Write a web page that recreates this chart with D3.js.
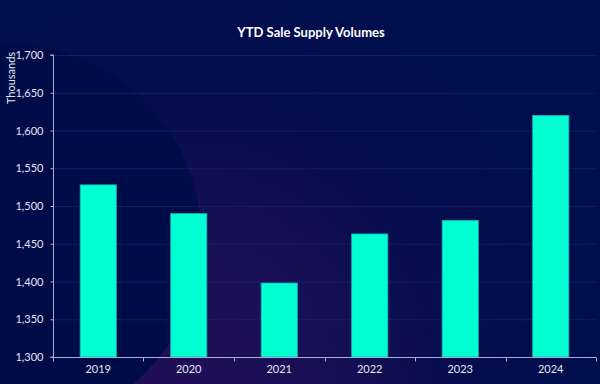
<!DOCTYPE html>
<html>
<head>
<meta charset="utf-8">
<script src="https://cdn.jsdelivr.net/npm/d3@7"></script>
<style>
  html, body { margin: 0; padding: 0; background: #010d4a; }
  svg { display: block; }
</style>
</head>
<body>
<svg id="chart"></svg>
<script>
// Chart data
const years = ["2019", "2020", "2021", "2022", "2023", "2024"];
const volumes = [1528, 1490, 1398, 1463, 1481, 1620];
const yTicks = [1300, 1350, 1400, 1450, 1500, 1550, 1600, 1650, 1700];

const W = 600, H = 384;
const margin = { top: 55, right: 4, bottom: 27, left: 53 };

const svg = d3.select("#chart").attr("width", W).attr("height", H);

// Background: purple glow with a big navy circle on the left
const defs = svg.append("defs");
const glow = defs.append("radialGradient")
    .attr("id", "glow")
    .attr("gradientUnits", "userSpaceOnUse")
    .attr("cx", 190).attr("cy", 384).attr("r", 430);
glow.append("stop").attr("offset", "0%").attr("stop-color", "#200f56");
glow.append("stop").attr("offset", "30%").attr("stop-color", "#190f54");
glow.append("stop").attr("offset", "65%").attr("stop-color", "#050d4e");
glow.append("stop").attr("offset", "100%").attr("stop-color", "#000e4d");

svg.append("rect").attr("width", W).attr("height", H).attr("fill", "url(#glow)");
svg.append("circle").attr("cx", 8).attr("cy", 237).attr("r", 193).attr("fill", "#000c48");

// Scales
const x = d3.scaleBand()
    .domain(years)
    .range([margin.left, W - margin.right])
    .paddingInner(0.6)
    .paddingOuter(0.3);

const y = d3.scaleLinear()
    .domain([1300, 1700])
    .range([H - margin.bottom, margin.top]);

// Gridlines
svg.append("g")
    .selectAll("line")
    .data(yTicks)
    .join("line")
    .attr("x1", margin.left)
    .attr("x2", W - margin.right)
    .attr("y1", d => y(d) + 0.5)
    .attr("y2", d => y(d) + 0.5)
    .attr("stroke", "#18288a")
    .attr("stroke-dasharray", "1,1");

// Bars
svg.append("g")
    .selectAll("rect")
    .data(volumes)
    .join("rect")
    .attr("x", (d, i) => x(years[i]))
    .attr("y", d => y(d))
    .attr("width", x.bandwidth())
    .attr("height", d => y(1300) - y(d))
    .attr("fill", "#00ffd2")
    .attr("stroke", "#1aa9b0")
    .attr("stroke-width", 0.8);

// Y axis
const yAxis = svg.append("g")
    .attr("transform", `translate(${margin.left + 0.5},0)`)
    .call(d3.axisLeft(y).tickValues(yTicks).tickSize(3).tickFormat(d3.format(",")));
yAxis.select(".domain").attr("stroke", "#a9aed0").attr("d", `M-3,${y(1700)}H0V${y(1300)}H-3`);
yAxis.selectAll(".tick line").attr("stroke", "#a9aed0");
yAxis.selectAll(".tick text")
    .attr("x", -10)
    .attr("fill", "#e2e5f2")
    .attr("font-family", "Lato, 'Open Sans', sans-serif")
    .attr("font-size", 11);

// X axis (labels centred in bands, ticks at band edges)
const xAxis = svg.append("g")
    .attr("transform", `translate(0,${H - margin.bottom + 0.5})`)
    .call(d3.axisBottom(x).tickSize(0).tickPadding(8));
xAxis.select(".domain").attr("stroke", "#a9aed0").attr("d", `M${margin.left},0H${W - margin.right}`);
xAxis.selectAll(".tick text")
    .attr("fill", "#e2e5f2")
    .attr("font-family", "Lato, 'Open Sans', sans-serif")
    .attr("font-size", 11);

const edges = years.map(d => x(d) - x.step() * x.paddingInner() / 2);
edges[0] = margin.left;
edges.push(W - margin.right);
xAxis.append("g")
    .selectAll("line")
    .data(edges)
    .join("line")
    .attr("x1", d => Math.round(d) + 0.5)
    .attr("x2", d => Math.round(d) + 0.5)
    .attr("y1", 0)
    .attr("y2", 4)
    .attr("stroke", "#a9aed0");

// Y axis title
svg.append("text")
    .attr("transform", `translate(15,78) rotate(-90)`)
    .attr("text-anchor", "middle")
    .attr("fill", "#e2e5f2")
    .attr("font-family", "Lato, 'Open Sans', sans-serif")
    .attr("font-size", 11)
    .text("Thousands");

// Title
svg.append("text")
    .attr("x", 311)
    .attr("y", 37)
    .attr("text-anchor", "middle")
    .attr("fill", "#ffffff")
    .attr("font-family", "Lato, 'Open Sans', sans-serif")
    .attr("font-weight", "bold")
    .attr("font-size", 13)
    .text("YTD Sale Supply Volumes");
</script>
</body>
</html>
